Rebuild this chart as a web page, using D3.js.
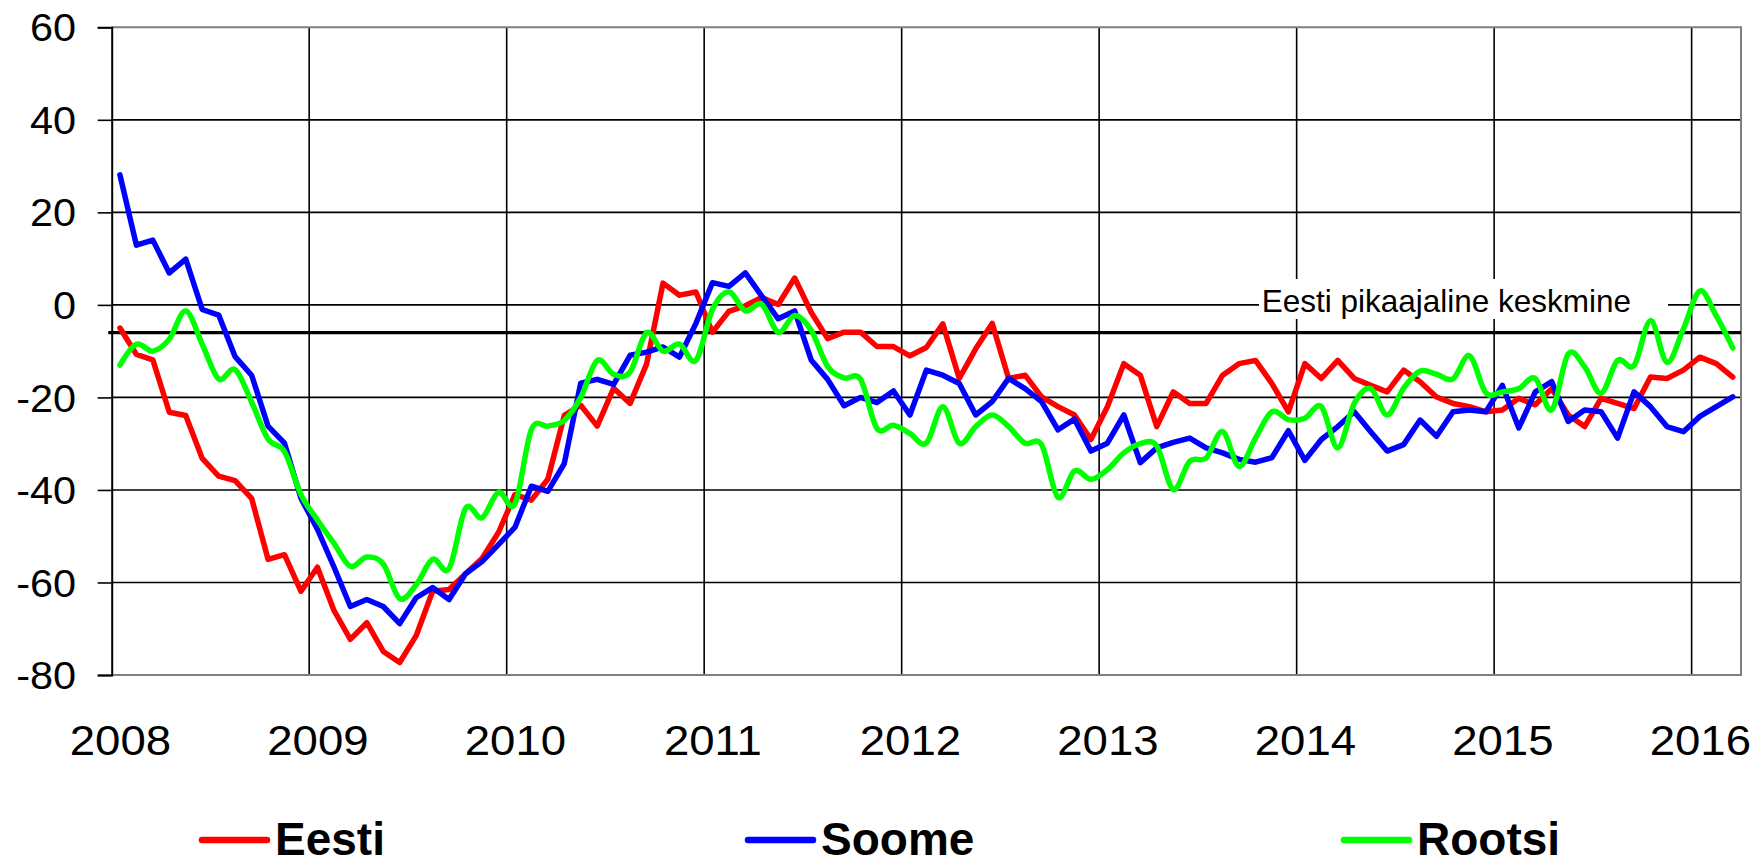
<!DOCTYPE html>
<html><head><meta charset="utf-8">
<script src="https://cdn.jsdelivr.net/npm/d3@7"></script>
<style>body{margin:0;background:#fff}svg{display:block}</style>
</head><body>
<script>
// ---- data ----
const years = ["2008","2009","2010","2011","2012","2013","2014","2015","2016"];
const yTicks = [60,40,20,0,-20,-40,-60,-80];
const seriesNames = ["Eesti","Soome","Rootsi"];
const seriesColors = ["#ff0000","#0000ff","#00ff00"];
const averageValue = -6;
const averageLabel = "Eesti pikaajaline keskmine";
// monthly values, Jan 2008 .. Mar 2016
const eesti = [-5,-10.7,-11.9,-23.2,-23.9,-33.2,-37,-38,-41.8,-55,-54,-61.9,
 -56.7,-66,-72.3,-68.7,-74.9,-77.3,-71.5,-61.9,-61.5,-58.1,-54.8,-49.2,
 -41,-42.2,-37.7,-23.9,-21.7,-26.2,-18,-21.3,-12.8,4.7,2.1,2.8,
 -5.9,-1.4,-0.2,1.6,0.1,5.8,-1.6,-7.3,-5.9,-5.9,-9,-9,
 -11,-9.2,-4.1,-15.9,-9.5,-4,-15.9,-15.2,-19.9,-22,-23.8,-29.1,
 -22,-12.7,-15.2,-26.3,-18.8,-21.3,-21.3,-15.2,-12.7,-12,-17,-23.1,
 -12.7,-15.9,-12,-15.9,-17.4,-18.8,-14.1,-16.6,-19.9,-21.3,-22,-23.1,
 -22.7,-20.2,-21.6,-18.1,-23.8,-26.3,-20.2,-21.3,-22.4,-15.6,-15.9,-14.1,
 -11.3,-12.7,-15.6];
const soome = [28.1,12.9,14,6.9,9.9,-1,-2.2,-11.2,-15.2,-26.2,-29.9,-41.8,
 -48.5,-56.6,-65.2,-63.7,-65.2,-68.9,-63.3,-61.1,-63.7,-58.1,-55.5,-51.8,
 -48.1,-39.2,-40.3,-34.3,-16.9,-16.1,-17.2,-10.9,-10.2,-9.1,-11.3,-4,
 4.8,4,6.9,1.9,-3,-1.3,-11.9,-16.1,-21.8,-20,-21.1,-18.6,
 -23.8,-14.1,-15.2,-17,-23.8,-20.9,-15.9,-18.1,-20.9,-27,-24.7,-31.6,
 -29.9,-23.8,-34.1,-30.9,-29.7,-28.8,-30.9,-32,-33.4,-34,-33,-27.2,
 -33.6,-29.1,-26.3,-23.1,-27.4,-31.6,-30.2,-24.9,-28.4,-23.1,-22.7,-23.1,
 -17.4,-26.6,-18.8,-16.6,-25.2,-22.7,-23.1,-28.8,-18.8,-22,-26.3,-27.4,
 -24.1,-22,-19.9];
const rootsi = [-13,-8.5,-10,-7.4,-1.3,-8.5,-16,-14,-21,-29,-31.7,-41,
 -46.5,-51.5,-56.5,-54.5,-56,-63.5,-60.5,-55,-57,-44,-46,-40.5,
 -43,-27,-26.2,-25,-20,-12,-15,-14.5,-6,-10,-8.5,-12,
 -1,2.8,-1.3,0.1,-5.9,-2.3,-5.5,-13.3,-15.8,-16.1,-26.7,-26,
 -27.8,-29.9,-22,-29.9,-26.3,-23.8,-26.3,-29.9,-30.2,-41.6,-35.9,-37.7,
 -35.6,-32,-30,-30.5,-39.9,-33.8,-33.1,-27.4,-34.9,-28.8,-23.1,-24.8,
 -24.5,-22,-30.9,-21.3,-18.1,-23.8,-18,-14.3,-15,-16,-11,-19,
 -18.8,-18.1,-15.9,-22.7,-10.6,-13.4,-19.1,-12,-13.1,-3.4,-12.4,-5.2,
 3,-2.4,-9.3];

// ---- chart ----
const W = 1763, H = 866;
const L = 111.7, R = 1741, T = 27.3, B = 675;
const svg = d3.select("body").append("svg").attr("width", W).attr("height", H);
const x = d3.scaleLinear().domain([0, 99]).range([L, R]);
const y = d3.scaleLinear().domain([-80, 60]).range([B, T]);
const yearMonth = years.map((d, i) => i * 12);

// vertical year gridlines
svg.append("g").selectAll("line").data(yearMonth.slice(1)).join("line")
  .attr("x1", d => x(d)).attr("x2", d => x(d)).attr("y1", T).attr("y2", B)
  .attr("stroke", "#000").attr("stroke-width", 1.6);
// horizontal gridlines
svg.append("g").selectAll("line").data(yTicks.filter(v => v !== 60 && v !== -80)).join("line")
  .attr("x1", L).attr("x2", R).attr("y1", d => y(d)).attr("y2", d => y(d))
  .attr("stroke", "#000").attr("stroke-width", 1.6);
// gray border top/right/bottom
svg.append("path")
  .attr("d", `M${L},${y(60)}H${R}V${y(-80)}H${L}`)
  .attr("fill", "none").attr("stroke", "#7f7f7f").attr("stroke-width", 2);

// y axis
const yAxis = svg.append("g").attr("transform", `translate(${L},0)`)
  .call(d3.axisLeft(y).tickValues(yTicks).tickSize(14).tickPadding(0).tickFormat(d => String(d)));
yAxis.select(".domain").attr("stroke", "#000").attr("stroke-width", 2);
yAxis.selectAll(".tick line").attr("stroke", "#000").attr("stroke-width", 1.6);
yAxis.selectAll(".tick text")
  .attr("x", null).attr("dy", null)
  .attr("transform", "translate(-35.7,13.6) scale(1.09,1)")
  .attr("font-family", "'Liberation Sans', Arial, sans-serif")
  .attr("font-size", 38).attr("fill", "#000").attr("text-anchor", "end");

// x axis labels
const xAxis = svg.append("g").attr("transform", `translate(0,${B})`)
  .call(d3.axisBottom(x).tickValues(yearMonth.map(m => m + 0.5)).tickSize(0)
    .tickFormat((d, i) => years[i]));
xAxis.select(".domain").remove();
xAxis.selectAll(".tick text")
  .attr("y", null).attr("dy", null)
  .attr("transform", "translate(0,80) scale(1.06,1)")
  .attr("font-family", "'Liberation Sans', Arial, sans-serif")
  .attr("font-size", 43).attr("fill", "#000").attr("text-anchor", "middle");

// average label with white box
svg.append("rect").attr("x", 1259).attr("y", 279).attr("width", 409).attr("height", 40).attr("fill", "#fff");
svg.append("text").attr("x", 1261.7).attr("y", 311.7)
  .attr("font-family", "'Liberation Sans', Arial, sans-serif").attr("font-size", 31.5)
  .attr("fill", "#000").text(averageLabel);
// average line
svg.append("line").attr("x1", L - 3.5).attr("x2", R).attr("y1", y(averageValue)).attr("y2", y(averageValue))
  .attr("stroke", "#000").attr("stroke-width", 3.2);

// series
const allSeries = [eesti, soome, rootsi];
const curves = [d3.curveLinear, d3.curveLinear, d3.curveCardinal.tension(0)];
allSeries.forEach((vals, k) => {
  const line = d3.line().x((d, i) => x(i + 0.5)).y(d => y(d)).curve(curves[k]);
  svg.append("path").datum(vals).attr("d", line)
    .attr("fill", "none").attr("stroke", seriesColors[k]).attr("stroke-width", 5.5)
    .attr("stroke-linejoin", "round").attr("stroke-linecap", "round");
});

// legend
const legendX = [202, 748, 1344];
const lg = svg.append("g");
seriesNames.forEach((name, k) => {
  lg.append("line").attr("x1", legendX[k]).attr("x2", legendX[k] + 65).attr("y1", 840).attr("y2", 840)
    .attr("stroke", seriesColors[k]).attr("stroke-width", 6.5).attr("stroke-linecap", "round");
  lg.append("text").attr("x", legendX[k] + 73).attr("y", 855)
    .attr("font-family", "'Liberation Sans', Arial, sans-serif").attr("font-weight", "bold")
    .attr("font-size", 46).attr("fill", "#000").text(name);
});
</script>
</body></html>
